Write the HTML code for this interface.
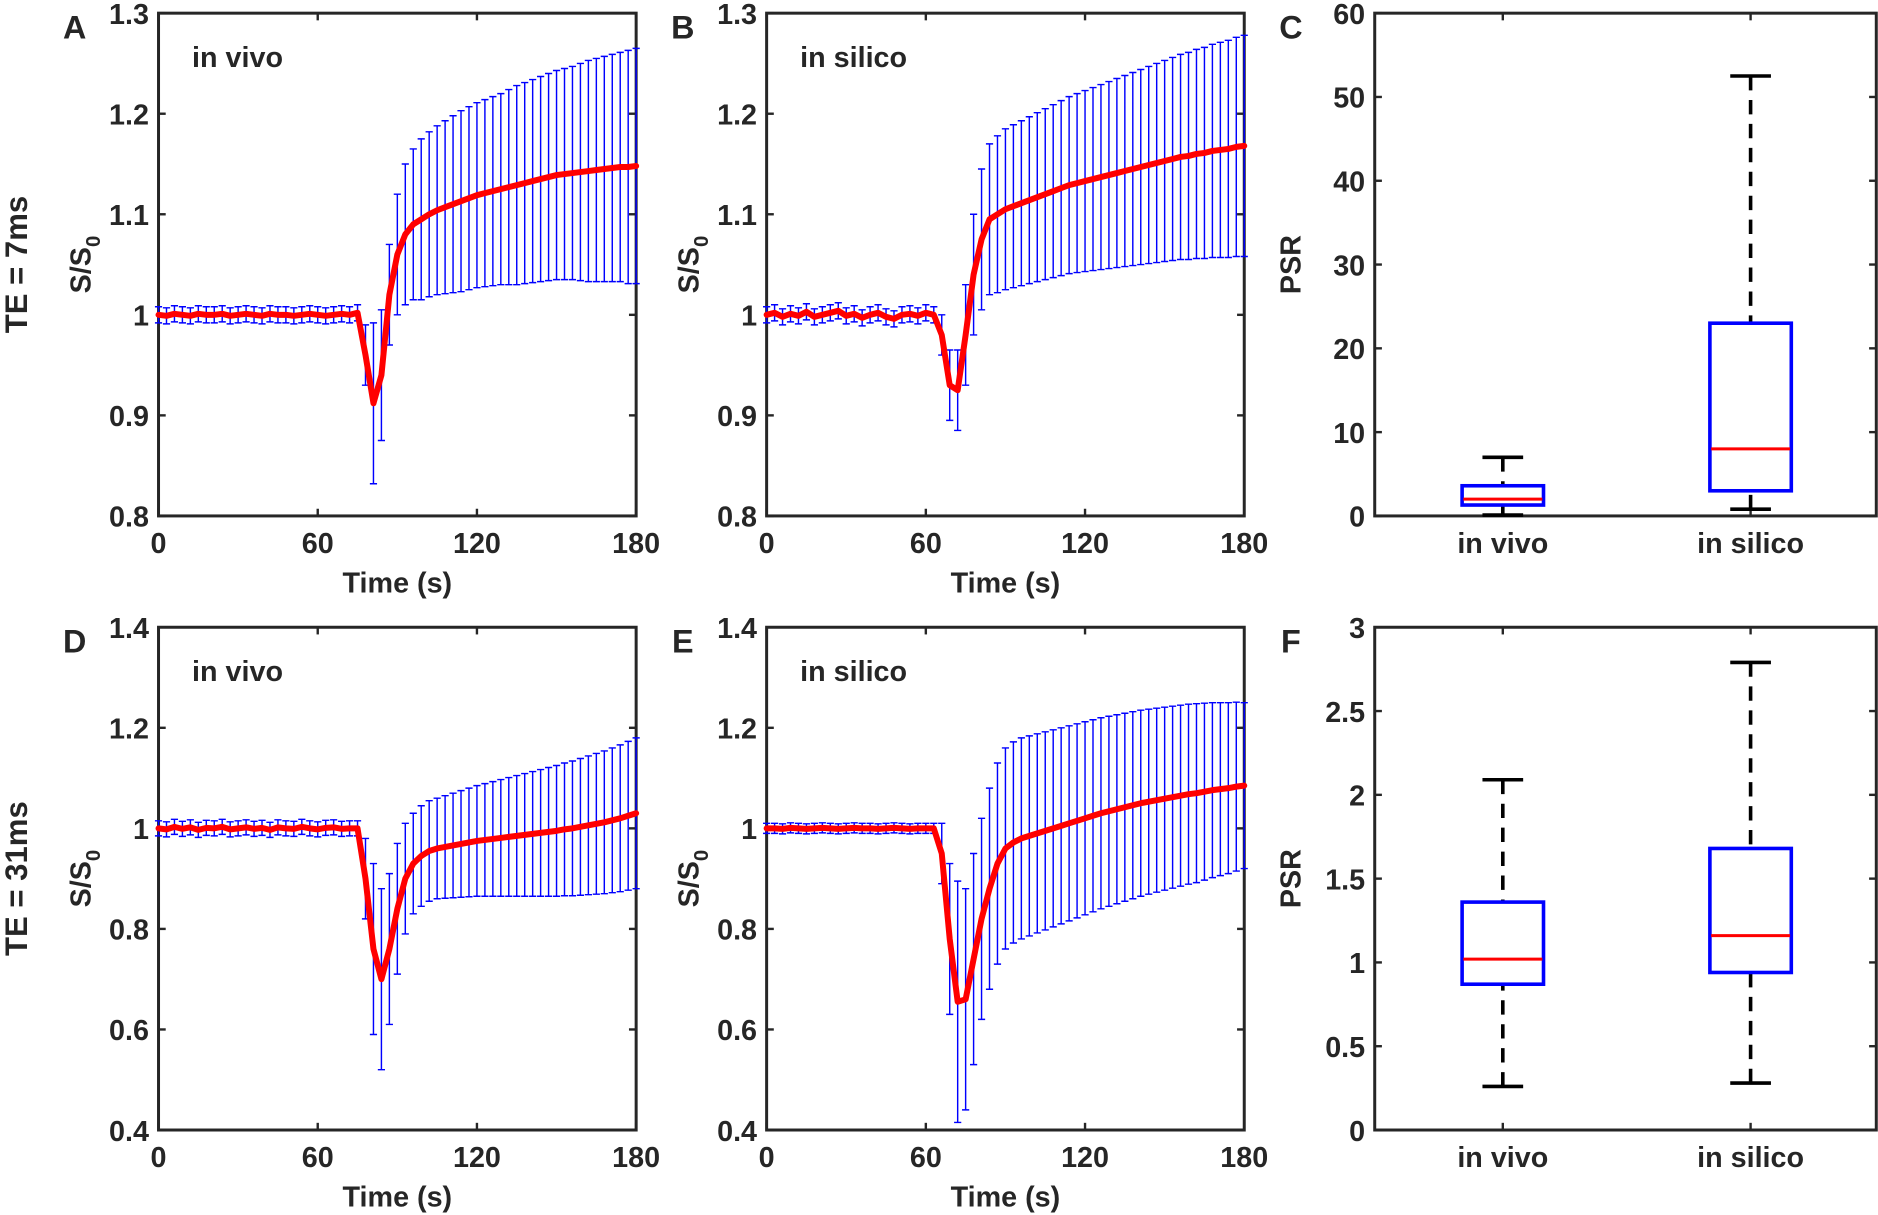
<!DOCTYPE html>
<html><head><meta charset="utf-8"><style>
html,body{margin:0;padding:0;background:#fff;}
svg{display:block;}
text{font-family:"Liberation Sans",Arial,sans-serif;font-weight:bold;fill:#262626;}
</style></head><body>
<svg id="fig" width="1878" height="1215" viewBox="0 0 1568 1015" xmlns="http://www.w3.org/2000/svg"></svg>
<script>
const timeStep = 3;
const meanA = [1.0,0.999,1.001,1.0,0.999,1.001,1.0,1.0,1.001,0.999,1.0,1.001,1.0,0.999,1.001,1.0,1.0,0.999,1.0,1.001,1.0,0.999,1.0,1.001,1.0,1.002,
0.96,0.912,0.94,1.02,1.06,1.08,1.09,1.095,1.10,1.104,1.107,1.11,1.113,1.116,1.119,1.121,1.123,1.125,1.127,1.129,1.131,1.133,1.135,1.137,1.139,1.14,1.141,1.142,1.143,1.144,1.145,1.146,1.147,1.147,1.148];
const sdA = [0.008,0.008,0.008,0.008,0.008,0.008,0.008,0.008,0.008,0.008,0.008,0.008,0.008,0.008,0.008,0.008,0.008,0.008,0.008,0.008,0.008,0.008,0.008,0.008,0.008,0.008,
0.03,0.08,0.065,0.05,0.06,0.07,0.075,0.08,0.082,0.084,0.086,0.088,0.09,0.091,0.092,0.093,0.094,0.095,0.097,0.099,0.1,0.101,0.102,0.103,0.104,0.105,0.106,0.108,0.11,0.111,0.112,0.113,0.114,0.116,0.117];
const meanB = [1.0,1.002,0.998,1.001,0.999,1.003,0.998,1.0,1.002,1.004,0.999,1.001,0.997,1.0,1.002,0.998,0.996,1.0,1.001,0.999,1.002,1.0,
0.98,0.93,0.925,0.98,1.04,1.075,1.095,1.10,1.105,
1.108,1.111,1.114,1.117,1.12,1.123,1.126,1.129,1.131,1.133,1.135,1.137,1.139,1.141,1.143,1.145,1.147,1.149,1.151,1.153,1.155,1.157,1.158,1.16,1.161,1.163,1.164,1.165,1.167,1.168];
const sdB = [0.008,0.008,0.008,0.008,0.008,0.008,0.008,0.008,0.008,0.008,0.008,0.008,0.008,0.008,0.008,0.008,0.008,0.008,0.008,0.008,0.008,0.008,
0.02,0.035,0.04,0.05,0.06,0.07,0.075,0.078,0.08,
0.081,0.082,0.083,0.084,0.085,0.086,0.087,0.088,0.089,0.09,0.091,0.092,0.093,0.094,0.095,0.096,0.097,0.098,0.099,0.1,0.101,0.102,0.103,0.104,0.105,0.106,0.107,0.108,0.109,0.11];
const meanD = [1.0,0.998,1.003,0.999,1.002,0.997,1.001,1.0,1.003,0.998,1.0,1.002,0.999,1.001,0.997,1.002,1.0,0.999,1.003,1.0,0.998,1.001,1.002,0.999,1.0,1.0,
0.9,0.76,0.70,0.76,0.84,0.9,0.93,0.945,0.955,
0.96,0.963,0.966,0.969,0.972,0.975,0.977,0.979,0.981,0.983,0.985,0.987,0.989,0.991,0.993,0.995,0.998,1.0,1.003,1.006,1.009,1.012,1.016,1.02,1.025,1.03];
const sdD = [0.015,0.015,0.015,0.015,0.015,0.015,0.015,0.015,0.015,0.015,0.015,0.015,0.015,0.015,0.015,0.015,0.015,0.015,0.015,0.015,0.015,0.015,0.015,0.015,0.015,0.015,
0.08,0.17,0.18,0.15,0.13,0.11,0.1,0.1,0.1,
0.1,0.102,0.104,0.106,0.108,0.11,0.112,0.114,0.116,0.118,0.12,0.122,0.124,0.126,0.128,0.13,0.132,0.134,0.136,0.138,0.14,0.142,0.144,0.146,0.148,0.15];
const meanE = [1.0,1.0,0.999,1.001,1.0,0.999,1.0,1.001,1.0,0.999,1.0,1.001,1.0,1.0,0.999,1.0,1.001,1.0,0.999,1.0,1.0,1.0,
0.95,0.78,0.655,0.66,0.74,0.82,0.88,0.93,0.96,0.972,
0.98,0.985,0.99,0.995,1.0,1.005,1.01,1.015,1.02,1.025,1.03,1.034,1.038,1.042,1.046,1.05,1.053,1.056,1.059,1.062,1.065,1.068,1.07,1.073,1.076,1.078,1.08,1.083,1.085];
const sdE = [0.01,0.01,0.01,0.01,0.01,0.01,0.01,0.01,0.01,0.01,0.01,0.01,0.01,0.01,0.01,0.01,0.01,0.01,0.01,0.01,0.01,0.01,
0.06,0.15,0.24,0.22,0.21,0.2,0.2,0.2,0.2,0.2,
0.2,0.199,0.198,0.197,0.196,0.195,0.194,0.193,0.192,0.191,0.19,0.189,0.188,0.187,0.186,0.185,0.184,0.183,0.182,0.181,0.18,0.179,0.178,0.176,0.174,0.172,0.17,0.168,0.165];
const xTicks = [0,60,120,180];
const yTicksTop = ["0.8","0.9","1","1.1","1.2","1.3"];
const yTicksBot = ["0.4","0.6","0.8","1","1.2","1.4"];
const boxCats = ["in vivo","in silico"];
// [lowWhisker, q1, median, q3, highWhisker]
const boxC_vivo = [0.1,1.3,2.0,3.6,7.0];
const boxC_silico = [0.8,3.0,8.0,23.0,52.5];
const boxF_vivo = [0.26,0.87,1.02,1.36,2.09];
const boxF_silico = [0.28,0.94,1.16,1.68,2.79];
const yTicksC = ["0","10","20","30","40","50","60"];
const yTicksF = ["0","0.5","1","1.5","2","2.5","3"];

const NS="http://www.w3.org/2000/svg";
const svg=document.getElementById('fig');
function mk(tag,attrs,parent){const e=document.createElementNS(NS,tag);for(const k in attrs)e.setAttribute(k,attrs[k]);(parent||svg).appendChild(e);return e;}
function txt(s,attrs,parent){const e=mk('text',attrs,parent);e.textContent=s;return e;}

function axesFrame(g,x0,y0,w,h,xt,xs,yt,ys){
  const f=mk('rect',{x:x0,y:y0,width:w,height:h,fill:'none',stroke:'#262626','stroke-width':2.5},g);
  
  
  xt.forEach((v,i)=>{const X=xs(i,v);
    mk('line',{x1:X,x2:X,y1:y0+h,y2:y0+h-6,stroke:'#262626','stroke-width':2},g);
    mk('line',{x1:X,x2:X,y1:y0,y2:y0+6,stroke:'#262626','stroke-width':2},g);
  });
  yt.forEach((v,i)=>{const Y=ys(i,v);
    mk('line',{x1:x0,x2:x0+6,y1:Y,y2:Y,stroke:'#262626','stroke-width':2},g);
    mk('line',{x1:x0+w,x2:x0+w-6,y1:Y,y2:Y,stroke:'#262626','stroke-width':2},g);
    const t=txt(v,{x:x0-8,y:Y+9,'text-anchor':'end','font-size':24},g);
    
    
  });
}

function timePanel(name,letter,label,x0,y0,mean,sd,ymin,ymax,yt){
  const w=399,h=420;
  const g=mk('g',{});
  
  
  const sx=t=>x0+t/180*w, sy=v=>y0+h-(v-ymin)/(ymax-ymin)*h;
  axesFrame(g,x0,y0,w,h,xTicks,(i,v)=>sx(v),yt,(i,v)=>sy(parseFloat(v)));
  xTicks.forEach(v=>{const t=txt(String(v),{x:sx(v),y:y0+h+31,'text-anchor':'middle','font-size':24},g);
    
    });
  const xl=txt('Time (s)',{x:x0+w/2,y:y0+h+64,'text-anchor':'middle','font-size':24},g);
  
  
  const yl=txt('',{transform:`translate(${x0-57},${y0+h/2}) rotate(-90)`,'text-anchor':'middle','font-size':24},g);
  yl.innerHTML='S/S<tspan font-size="17" dy="8">0</tspan>';
  
  
  const pl=txt(letter,{x:x0-70,y:y0+21,'font-size':27,'text-anchor':'middle'},g);
  
  
  const il=txt(label,{x:x0+28,y:y0+45,'font-size':24},g);
  
  
  const eb=mk('g',{stroke:'#0000ff','stroke-width':1.2},g);
  
  
  let d='';
  mean.forEach((m,i)=>{const X=sx(i*timeStep),yt2=sy(m+sd[i]),yb=sy(m-sd[i]);
    d+=`M${X},${yt2}V${yb}M${X-3},${yt2}H${X+3}M${X-3},${yb}H${X+3}`;});
  mk('path',{d:d,fill:'none'},eb);
  const ln=mk('polyline',{points:mean.map((m,i)=>sx(i*timeStep)+','+sy(m)).join(' '),fill:'none',stroke:'#ff0000','stroke-width':5,'stroke-linejoin':'round','stroke-linecap':'round'},g);
  
  
}

function boxPanel(name,letter,x0,y0,boxes,ymax,yt){
  const w=419,h=420;
  const g=mk('g',{});
  
  
  const sy=v=>y0+h-v/ymax*h;
  const cx=[x0+107,x0+314];
  axesFrame(g,x0,y0,w,h,boxCats,(i)=>cx[i],yt,(i,v)=>sy(parseFloat(v)));
  boxCats.forEach((c,i)=>{const t=txt(c,{x:cx[i],y:y0+h+31,'text-anchor':'middle','font-size':24},g);
    
    });
  const yl=txt('PSR',{transform:`translate(${x0-62},${y0+h/2}) rotate(-90)`,'text-anchor':'middle','font-size':24},g);
  
  
  const pl=txt(letter,{x:x0-70,y:y0+21,'font-size':27,'text-anchor':'middle'},g);
  
  
  boxes.forEach((b,i)=>{const X=cx[i];const bg=mk('g',{},g);
    
    
    mk('line',{x1:X,x2:X,y1:sy(b[0]),y2:sy(b[1]),stroke:'#000','stroke-width':3,'stroke-dasharray':'12,8'},bg);
    mk('line',{x1:X,x2:X,y1:sy(b[4]),y2:sy(b[3]),stroke:'#000','stroke-width':3,'stroke-dasharray':'12,8'},bg);
    mk('line',{x1:X-17,x2:X+17,y1:sy(b[0]),y2:sy(b[0]),stroke:'#000','stroke-width':3},bg);
    mk('line',{x1:X-17,x2:X+17,y1:sy(b[4]),y2:sy(b[4]),stroke:'#000','stroke-width':3},bg);
    mk('rect',{x:X-34,y:sy(b[3]),width:68,height:sy(b[1])-sy(b[3]),fill:'#fff',stroke:'#0000ff','stroke-width':3},bg);
    mk('line',{x1:X-33,x2:X+33,y1:sy(b[2]),y2:sy(b[2]),stroke:'#ff0000','stroke-width':2.5},bg);
  });
}

timePanel('panel-a','A','in vivo',132,11,meanA,sdA,0.8,1.3,yTicksTop);
timePanel('panel-b','B','in silico',640,11,meanB,sdB,0.8,1.3,yTicksTop);
boxPanel('panel-c','C',1148,11,[boxC_vivo,boxC_silico],60,yTicksC);
timePanel('panel-d','D','in vivo',132,524,meanD,sdD,0.4,1.4,yTicksBot);
timePanel('panel-e','E','in silico',640,524,meanE,sdE,0.4,1.4,yTicksBot);
boxPanel('panel-f','F',1148,524,[boxF_vivo,boxF_silico],3,yTicksF);
const r1=txt('TE = 7ms',{transform:'translate(22,221) rotate(-90)','text-anchor':'middle','font-size':26});


const r2=txt('TE = 31ms',{transform:'translate(22,734) rotate(-90)','text-anchor':'middle','font-size':26});


</script>
</body></html>
